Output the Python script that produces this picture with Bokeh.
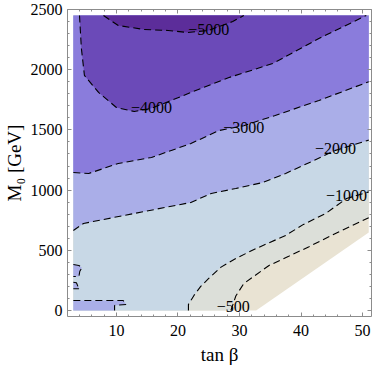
from bokeh.plotting import figure
from bokeh.models import Range1d, LinearAxis, FixedTicker
from bokeh.core.properties import value
from bokeh.embed import file_html
from bokeh.resources import INLINE

# ---------------- data ----------------
tanb_extent = [3.0, 51.0]          # computed region in tan(beta)
m0_extent = [0.0, 2450.0]          # computed region in M0 [GeV]
nodata_x = [32.7, 51.0]            # lower-right edge of computed region
nodata_y = [0.0, 648.0]

level_names = ["\u22125000", "\u22124000", "\u22123000", "\u22122000", "\u22121000", "\u2212500"]
# band colours: < -5000, -5000..-4000, -4000..-3000, -3000..-2000, -2000..-1000, -1000..-500, > -500
band_colors = ["#5c2d9a", "#6b4ab8", "#8a7cdc", "#aaaee8", "#c8d8e6", "#dcdfd9", "#e9e3d3"]

c5000_x = [7.9, 10.3, 14.5, 18.4, 21.6, 25.0, 28.9, 30.7]
c5000_y = [2450, 2367, 2334, 2326, 2309, 2326, 2400, 2450]

c4000_x = [4.0, 4.3, 4.8, 7.1, 10.0, 12.9, 15.7, 18.9, 22.1, 28.3, 35.4, 42.9, 50.6]
c4000_y = [2450, 2180, 1952, 1811, 1686, 1653, 1680, 1744, 1811, 1935, 2051, 2259, 2450]

c3000_x = [3.0, 5.5, 10.3, 15.7, 22.1, 26.7, 30.7, 35.8, 42.9, 51.0]
c3000_y = [1146, 1138, 1221, 1271, 1387, 1495, 1535, 1620, 1744, 1900]

c2000_x = [3.0, 4.65, 12.9, 22.1, 25.4, 29.4, 33.8, 37.5, 42.1, 45.6, 51.0]
c2000_y = [664, 723, 806, 897, 972, 1013, 1063, 1138, 1246, 1330, 1415]

c2000_blob1_x = [3.0, 3.9, 4.4, 4.05, 3.9, 3.0]
c2000_blob1_y = [382, 374, 355, 326, 282, 282]
c2000_blob2_x = [3.0, 3.5, 3.8, 4.05, 3.0]
c2000_blob2_y = [235, 230, 194, 180, 180]
c2000_strip_x = [3.0, 11.1, 11.6, 9.7, 9.7, 3.0]
c2000_strip_y = [83, 83, 50, 42, 0, 0]

c1000_x = [21.7, 21.7, 22.6, 23.7, 25.0, 27.0, 29.4, 32.7, 37.5, 40.4, 44.0, 47.4, 51.0]
c1000_y = [0, 50, 125, 200, 266, 360, 432, 515, 623, 715, 806, 930, 985]

c500_x = [28.6, 29.0, 29.4, 30.7, 34.8, 38.0, 41.3, 45.6, 51.0]
c500_y = [0, 60, 120, 224, 374, 450, 530, 640, 770]

label_x = [25.0, 15.7, 30.7, 45.6, 47.4, 29.0]
label_y = [2334, 1686, 1520, 1346, 955, 33]

x_ticks = [10, 20, 30, 40, 50]
x_minor = list(range(2, 52, 2))
y_ticks = [0, 500, 1000, 1500, 2000, 2500]
y_minor = list(range(0, 2501, 100))

# ---------------- figure ----------------
p = figure(width=374, height=368, x_range=Range1d(2.05, 51.45), y_range=Range1d(-50, 2500),
           output_backend="svg", toolbar_location=None,
           min_border_left=66, min_border_right=3, min_border_top=9, min_border_bottom=52)
p.outline_line_color = None
p.xgrid.visible = False
p.ygrid.visible = False
p.background_fill_color = "white"
p.border_fill_color = "white"

X0, X1 = tanb_extent
Y0, Y1 = m0_extent

# base region (value > -500)
p.patch([X0, nodata_x[0], nodata_x[1], X1, X0], [Y0, Y0, nodata_y[1], Y1, Y1],
        fill_color=band_colors[6], line_color=None)
# < -500
p.patch(c500_x + [X1, X0, X0], c500_y + [Y1, Y1, Y0], fill_color=band_colors[5], line_color=None)
# < -1000
p.patch(c1000_x + [X1, X0, X0], c1000_y + [Y1, Y1, Y0], fill_color=band_colors[4], line_color=None)
# < -2000
p.patch(c2000_x + [X1, X0], c2000_y + [Y1, Y1], fill_color=band_colors[3], line_color=None)
for bx, by in [(c2000_blob1_x, c2000_blob1_y), (c2000_blob2_x, c2000_blob2_y), (c2000_strip_x, c2000_strip_y)]:
    p.patch(bx, by, fill_color=band_colors[3], line_color=None)
# < -3000
p.patch(c3000_x + [X1, X0], c3000_y + [Y1, Y1], fill_color=band_colors[2], line_color=None)
# < -4000
p.patch(c4000_x, c4000_y, fill_color=band_colors[1], line_color=None)
# < -5000
p.patch(c5000_x, c5000_y, fill_color=band_colors[0], line_color=None)

dash = "7 4"
for lx, ly in [(c5000_x, c5000_y), (c4000_x, c4000_y), (c3000_x, c3000_y), (c2000_x, c2000_y),
               (c1000_x, c1000_y), (c500_x, c500_y),
               (c2000_blob1_x, c2000_blob1_y), (c2000_blob2_x, c2000_blob2_y),
               (c2000_strip_x[:5], c2000_strip_y[:5])]:
    p.line(lx, ly, line_color="black", line_dash=dash, line_width=1.1)

p.text(x=label_x, y=label_y, text=level_names, text_align="center", text_baseline="middle",
       text_font=value("Liberation Serif"), text_font_size="16px", text_color="black")

# ---------------- axes (Mathematica-like frame) ----------------
frame_col = "#8c8c8c"
serif = "Liberation Serif"

def style_axis(ax, show_labels):
    ax.axis_line_color = frame_col
    ax.major_tick_line_color = frame_col
    ax.minor_tick_line_color = frame_col
    ax.major_tick_in = 4
    ax.major_tick_out = 0
    ax.minor_tick_in = 2
    ax.minor_tick_out = 0
    ax.major_label_text_font = serif
    if show_labels:
        ax.major_label_text_font_size = "16px"
        ax.major_label_text_color = "black"
    else:
        ax.major_label_text_font_size = "0px"
        ax.major_label_text_color = None
        ax.major_label_standoff = 0

p.xaxis.ticker = FixedTicker(ticks=x_ticks, minor_ticks=x_minor)
p.yaxis.ticker = FixedTicker(ticks=y_ticks, minor_ticks=y_minor)
style_axis(p.xaxis[0], True)
style_axis(p.yaxis[0], True)
p.xaxis[0].major_label_standoff = 8
p.yaxis[0].major_label_standoff = 5

for ax in (p.xaxis[0], p.yaxis[0]):
    ax.axis_label_text_font = serif
    ax.axis_label_text_font_size = "19px"
    ax.axis_label_text_font_style = "normal"
    ax.axis_label_text_color = "black"
p.xaxis[0].axis_label = "tan \u03b2"
p.xaxis[0].axis_label_standoff = 5
p.yaxis[0].axis_label = "M\u2080 [GeV]"
p.yaxis[0].axis_label_standoff = 3

top_ax = LinearAxis(ticker=FixedTicker(ticks=x_ticks, minor_ticks=x_minor))
style_axis(top_ax, False)
p.add_layout(top_ax, "above")
right_ax = LinearAxis(ticker=FixedTicker(ticks=y_ticks, minor_ticks=y_minor))
style_axis(right_ax, False)
p.add_layout(right_ax, "right")

open("out.html", "w").write(file_html(p, INLINE))
